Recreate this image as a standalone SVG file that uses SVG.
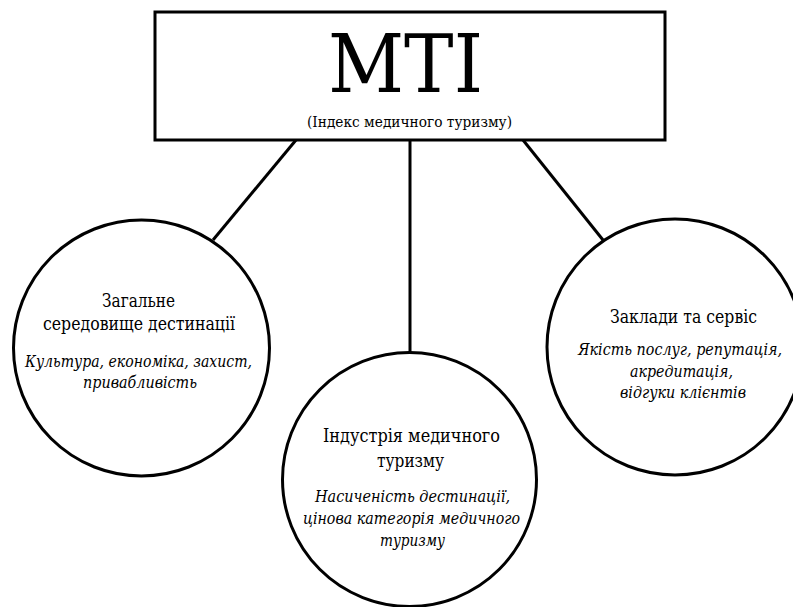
<svg xmlns="http://www.w3.org/2000/svg" width="793" height="607" viewBox="0 0 793 607">
<style>
.shape{fill:#fff;stroke:#000;stroke-width:3}
.conn line{stroke:#000;stroke-width:3}
text{font-family:"DejaVu Serif Condensed","DejaVu Serif",serif;fill:#000;text-anchor:middle}
.t{font-size:18px}
.i{font-size:17px;font-style:italic}
</style>
<rect width="793" height="607" fill="#fff"/>
<g id="connectors" class="conn">
<line x1="296" y1="140" x2="213" y2="240"/>
<line x1="410" y1="140" x2="410" y2="353"/>
<line x1="523" y1="140" x2="603" y2="240"/>
</g>
<g id="mti">
<rect class="shape" x="155" y="12" width="510" height="128"/>
<text x="405.5" y="92" font-size="81" textLength="155" lengthAdjust="spacingAndGlyphs">MTI</text>
<text x="409.5" y="127" font-size="14.5" textLength="205" lengthAdjust="spacingAndGlyphs">(Індекс медичного туризму)</text>
</g>
<g id="node-left">
<circle class="shape" cx="141.5" cy="348" r="128"/>
<text class="t" x="138.5" y="307" textLength="73" lengthAdjust="spacingAndGlyphs">Загальне</text>
<text class="t" x="139" y="330" textLength="192" lengthAdjust="spacingAndGlyphs">середовище дестинації</text>
<text class="i" x="138.5" y="367" textLength="227" lengthAdjust="spacingAndGlyphs">Культура, економіка, захист,</text>
<text class="i" x="140" y="388" textLength="114" lengthAdjust="spacingAndGlyphs">привабливість</text>
</g>
<g id="node-middle">
<circle class="shape" cx="409.5" cy="479.5" r="127"/>
<text class="t" x="411.5" y="442" textLength="177" lengthAdjust="spacingAndGlyphs">Індустрія медичного</text>
<text class="t" x="410.5" y="467" textLength="67" lengthAdjust="spacingAndGlyphs">туризму</text>
<text class="i" x="412.5" y="502" textLength="195" lengthAdjust="spacingAndGlyphs">Насиченість дестинації,</text>
<text class="i" x="411.5" y="524" textLength="217" lengthAdjust="spacingAndGlyphs">цінова категорія медичного</text>
<text class="i" x="412.5" y="546" textLength="65" lengthAdjust="spacingAndGlyphs">туризму</text>
</g>
<g id="node-right">
<circle class="shape" cx="675" cy="347" r="128"/>
<text class="t" x="683.5" y="323" textLength="147" lengthAdjust="spacingAndGlyphs">Заклади та сервіс</text>
<text class="i" x="680" y="355" textLength="204" lengthAdjust="spacingAndGlyphs">Якість послуг, репутація,</text>
<text class="i" x="681.5" y="377" textLength="103" lengthAdjust="spacingAndGlyphs">акредитація,</text>
<text class="i" x="683" y="398" textLength="126" lengthAdjust="spacingAndGlyphs">відгуки клієнтів</text>
</g>
</svg>
